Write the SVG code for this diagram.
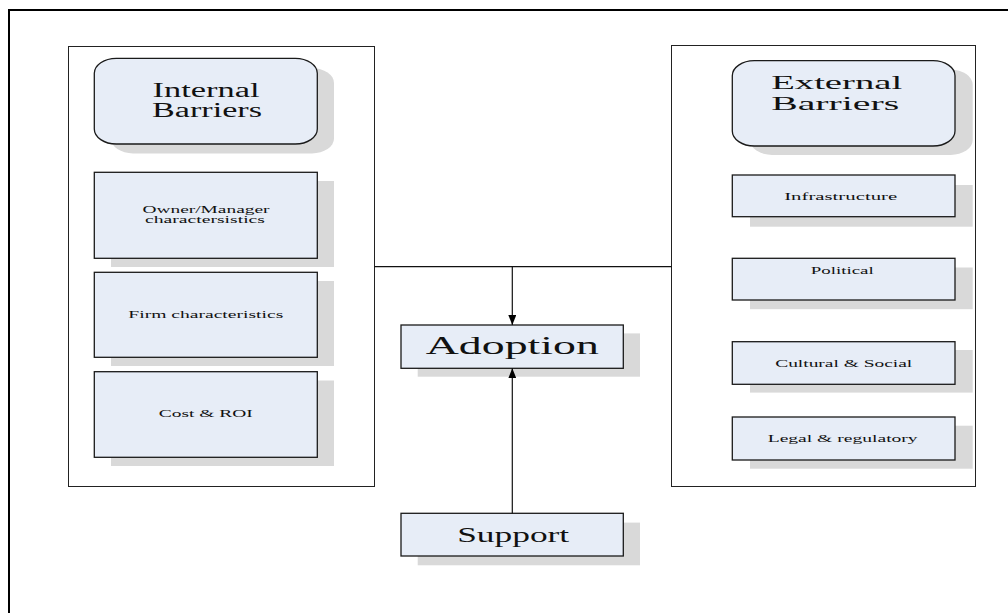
<svg xmlns="http://www.w3.org/2000/svg" width="1008" height="613" viewBox="0 0 1008 613">
<style>
.frame{fill:none;stroke:#000;stroke-width:2}
.cont{fill:#fff;stroke:#222;stroke-width:1}
.shadow{fill:#d9d9d9;stroke:none}
.box{fill:#e7edf7;stroke:#1a1a1a;stroke-width:1.3}
.t{fill:#111;text-anchor:middle}
.conn{fill:none;stroke:#111;stroke-width:1.2}
</style>
<defs>
<marker id="arr" viewBox="0 0 10 8" refX="10" refY="4" markerWidth="10" markerHeight="8" markerUnits="userSpaceOnUse" orient="auto">
<path d="M0,0 L10,4 L0,8 Z" fill="#000"/>
</marker>
</defs>
<rect width="1008" height="613" fill="#fff"/>
<path class="frame" d="M9,613 V10 H1008"/>

<g id="internal-container">
<rect class="cont" x="68.5" y="46.5" width="306" height="440"/>
</g>
<g id="external-container">
<rect class="cont" x="671.5" y="45.5" width="304" height="441"/>
</g>

<g font-family="'Liberation Serif', 'Times New Roman', 'DejaVu Serif', serif">
<g id="internal-barriers">
<rect class="shadow" x="111" y="68" width="223" height="85.5" rx="22" ry="15"/>
<rect class="box" x="94.3" y="58.3" width="223" height="85.7" rx="22" ry="15"/>
<text class="t" font-size="20" x="206" y="96.5" textLength="107" lengthAdjust="spacingAndGlyphs">Internal</text>
<text class="t" font-size="20" x="207" y="117" textLength="110" lengthAdjust="spacingAndGlyphs">Barriers</text>
</g>

<g id="owner-manager">
<rect class="shadow" x="111" y="181" width="223" height="86"/>
<rect class="box" x="94.3" y="172.3" width="223" height="86"/>
<text class="t" font-size="10" x="206" y="212.5" textLength="127" lengthAdjust="spacingAndGlyphs">Owner/Manager</text>
<text class="t" font-size="10" x="205" y="223" textLength="120" lengthAdjust="spacingAndGlyphs">charactersistics</text>
</g>

<g id="firm">
<rect class="shadow" x="111" y="281" width="223" height="85"/>
<rect class="box" x="94.3" y="272.3" width="223" height="85"/>
<text class="t" font-size="11" x="205.8" y="317.5" textLength="155" lengthAdjust="spacingAndGlyphs">Firm characteristics</text>
</g>

<g id="cost-roi">
<rect class="shadow" x="111" y="380.5" width="223" height="85.5"/>
<rect class="box" x="94.3" y="371.7" width="223" height="85.6"/>
<text class="t" font-size="11" x="205.8" y="417.3" textLength="94" lengthAdjust="spacingAndGlyphs">Cost &amp; ROI</text>
</g>

<g id="external-barriers">
<rect class="shadow" x="750" y="69.7" width="222.7" height="85.3" rx="22" ry="15"/>
<rect class="box" x="732.3" y="60.7" width="222.7" height="85.3" rx="22" ry="15"/>
<text class="t" font-size="19.5" x="836.7" y="89" textLength="131" lengthAdjust="spacingAndGlyphs">External</text>
<text class="t" font-size="19.5" x="835.2" y="110" textLength="128" lengthAdjust="spacingAndGlyphs">Barriers</text>
</g>

<g id="infrastructure">
<rect class="shadow" x="750" y="185" width="222.7" height="41.7"/>
<rect class="box" x="732.3" y="175" width="222.7" height="41.7"/>
<text class="t" font-size="11" x="840.7" y="200" textLength="113" lengthAdjust="spacingAndGlyphs">Infrastructure</text>
</g>

<g id="political">
<rect class="shadow" x="750" y="267.5" width="222.7" height="41.7"/>
<rect class="box" x="732.3" y="258.3" width="222.7" height="41.7"/>
<text class="t" font-size="11" x="842.2" y="274.3" textLength="63" lengthAdjust="spacingAndGlyphs">Political</text>
</g>

<g id="cultural-social">
<rect class="shadow" x="750" y="350" width="222.7" height="42.6"/>
<rect class="box" x="732.3" y="341.7" width="222.7" height="42.6"/>
<text class="t" font-size="11" x="843.7" y="366.7" textLength="137" lengthAdjust="spacingAndGlyphs">Cultural &amp; Social</text>
</g>

<g id="legal-regulatory">
<rect class="shadow" x="750" y="425.7" width="222.7" height="43"/>
<rect class="box" x="732.3" y="417" width="222.7" height="43"/>
<text class="t" font-size="11" x="842.7" y="441.7" textLength="150" lengthAdjust="spacingAndGlyphs">Legal &amp; regulatory</text>
</g>

<g id="adoption">
<rect class="shadow" x="417.7" y="333.4" width="222.3" height="43.3"/>
<rect class="box" x="401" y="325" width="222.3" height="43.3"/>
<text class="t" font-size="25" x="512.3" y="354" textLength="173" lengthAdjust="spacingAndGlyphs">Adoption</text>
</g>

<g id="support">
<rect class="shadow" x="417.7" y="522.6" width="222.3" height="42.7"/>
<rect class="box" x="401" y="513.3" width="222.3" height="42.7"/>
<text class="t" font-size="21" x="513.2" y="541.7" textLength="112" lengthAdjust="spacingAndGlyphs">Support</text>
</g>
</g>

<g id="connectors">
<path class="conn" d="M374.5,266.7 H671.5"/>
<path class="conn" d="M512.3,266.7 V325" marker-end="url(#arr)"/>
<path class="conn" d="M512.3,513.3 V368.3" marker-end="url(#arr)"/>
</g>
</svg>
